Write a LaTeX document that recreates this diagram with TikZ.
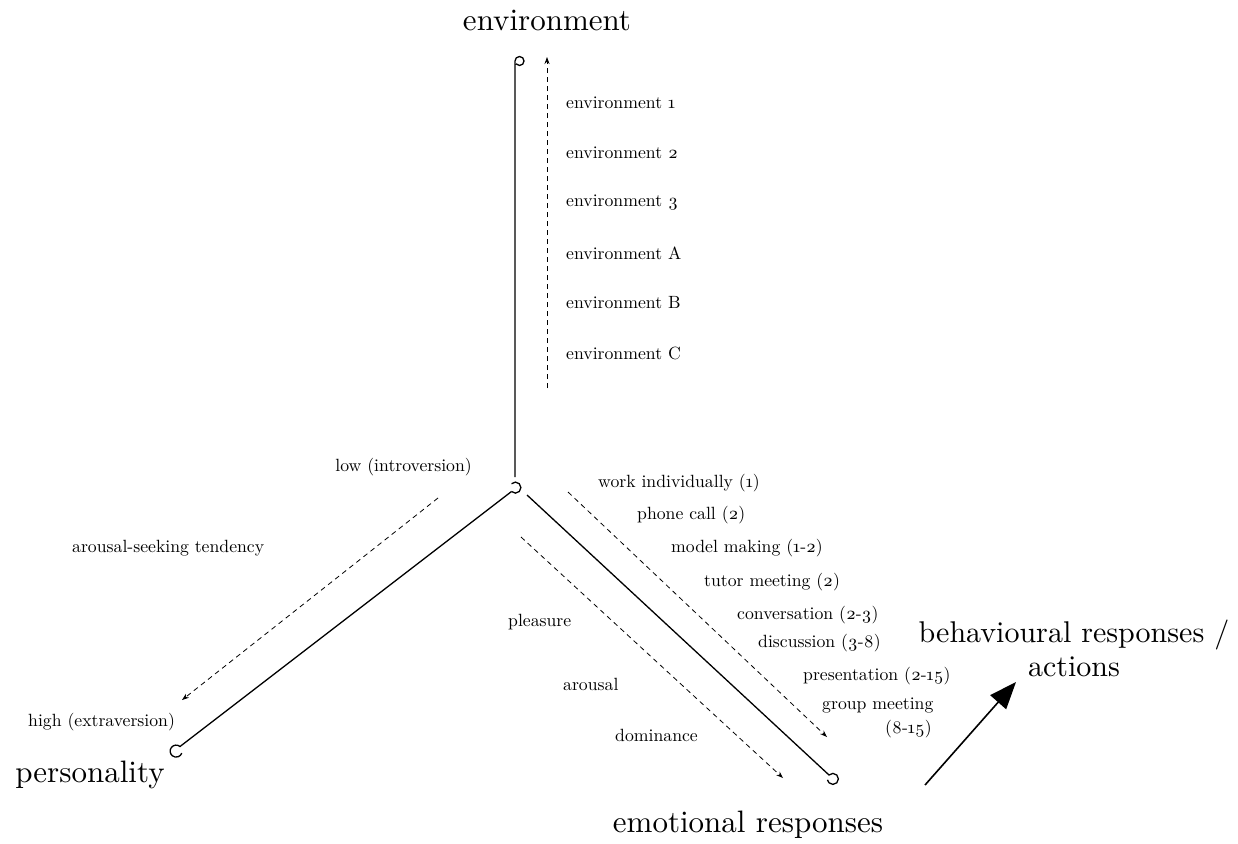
\documentclass[tikz,border=0pt]{standalone}
\usepackage{fontspec}
\setmainfont{lmroman10-regular.otf}[Numbers=OldStyle]
\usetikzlibrary{arrows.meta}
\tikzset{
  small/.style={font=\fontsize{17.7}{21}\selectfont, inner sep=0pt},
  big/.style={font=\fontsize{31}{34}\selectfont, inner sep=0pt},
  axisline/.style={line width=1.3pt},
  dimarrow/.style={dash pattern=on 5pt off 4pt, line width=0.8pt, -{Stealth[length=7pt,width=5pt]}},
  mainarrow/.style={line width=1.6pt, -{Triangle[length=27pt,width=21pt]}}
}
\begin{document}
\begin{tikzpicture}[x=1pt,y=-1pt]
\useasboundingbox (0,0) rectangle (1238,843);
% axis end points
\coordinate (Etop) at (515,61);
\coordinate (Obot) at (515,477);
\coordinate (Ol) at (511.5,491.5);
\coordinate (Or) at (527,495);
\coordinate (Pend) at (180,746.5);
\coordinate (Rend) at (829,775);
% axes with hooks
\draw[axisline] (Obot) -- (Etop) arc[start angle=180,end angle=500,radius=4.5];
\draw[axisline] (Ol) arc[start angle=135,end angle=-135,radius=5.5];
\draw[axisline] (Ol) -- (Pend) arc[start angle=310,end angle=20,radius=6];
\draw[axisline] (Or) -- (Rend) arc[start angle=225,end angle=530,radius=5.5];
% dashed scale arrows
\coordinate (d1s) at (547,388); \coordinate (d1e) at (547,57);
\coordinate (d2s) at (438,498); \coordinate (d2e) at (182,700);
\coordinate (d3s) at (568,492); \coordinate (d3e) at (827,737);
\coordinate (d4s) at (521,537); \coordinate (d4e) at (783,778);
\draw[dimarrow] (d1s) -- (d1e);
\draw[dimarrow] (d2s) -- (d2e);
\draw[dimarrow] (d3s) -- (d3e);
\draw[dimarrow] (d4s) -- (d4e);
% big arrow
\coordinate (bs) at (925,785); \coordinate (be) at (1016,682);
\draw[mainarrow] (bs) -- (be);
% big labels
\node[big] (env) at (547,20) {environment};
\node[big] (pers) at (90,775) {personality};
\node[big] (emo) at (748,825) {emotional responses};
\node[big, align=center, font=\fontsize{30}{34}\selectfont] (beh) at (1074,648) {behavioural responses /\\actions};
% environment list
\node[small, anchor=west] (e1) at (566,103) {environment 1};
\node[small, anchor=west] (e2) at (566,153) {environment 2};
\node[small, anchor=west] (e3) at (566,203) {environment 3};
\node[small, anchor=west] (eA) at (566,253) {environment A};
\node[small, anchor=west] (eB) at (566,303) {environment B};
\node[small, anchor=west] (eC) at (566,353) {environment C};
% personality labels
\node[small, anchor=east] (low) at (472,467) {low (introversion)};
\node[small, anchor=west] (ast) at (72,548) {arousal-seeking tendency};
\node[small, anchor=west] (high) at (28,722) {high (extraversion)};
% activities
\node[small, anchor=west] (a1) at (598,483) {work individually (1)};
\node[small, anchor=west] (a2) at (637,515) {phone call (2)};
\node[small, anchor=west] (a3) at (671,548) {model making (1-2)};
\node[small, anchor=west] (a4) at (704,582) {tutor meeting (2)};
\node[small, anchor=west] (a5) at (737,615) {conversation (2-3)};
\node[small, anchor=west] (a6) at (758,643) {discussion (3-8)};
\node[small, anchor=west] (a7) at (803,676) {presentation (2-15)};
\node[small, anchor=west] (a8) at (822,705) {group meeting};
\node[small, anchor=west] (a8b) at (885,729) {(8-15)};
% emotions
\node[small, anchor=west] (pl) at (508,622) {pleasure};
\node[small, anchor=west] (ar) at (563,684) {arousal};
\node[small, anchor=west] (dom) at (615,735) {dominance};
\end{tikzpicture}
\end{document}
